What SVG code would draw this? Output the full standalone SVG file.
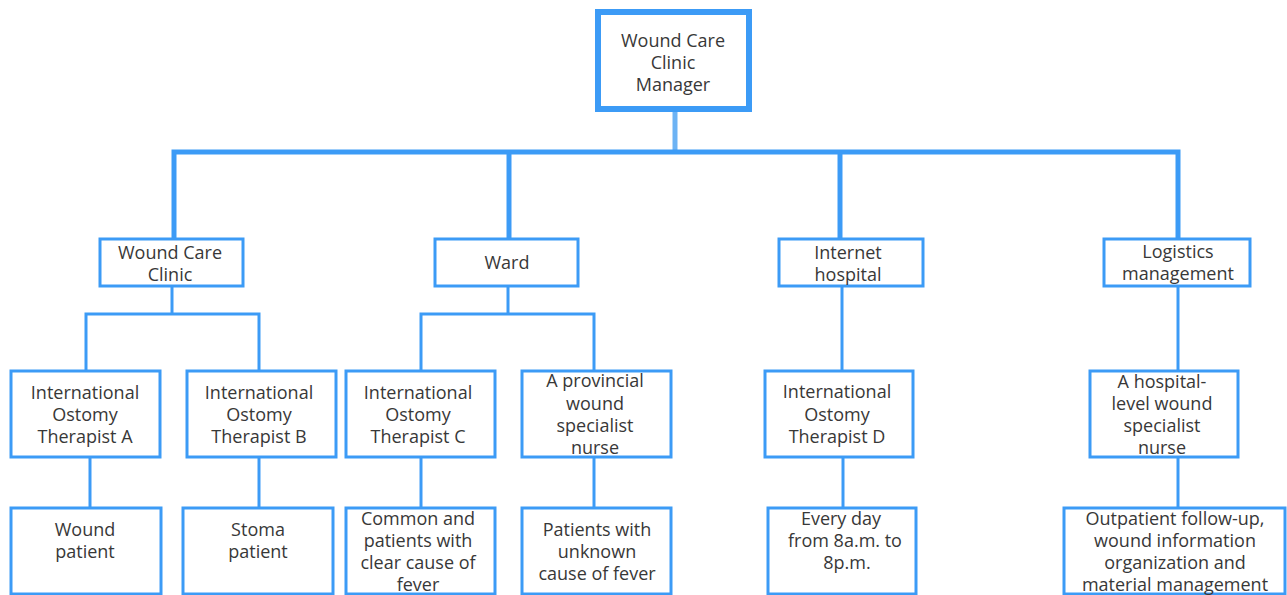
<svg xmlns="http://www.w3.org/2000/svg" width="1287" height="595" viewBox="0 0 1287 595">
<style>
.box{fill:#fff;stroke:#3C9BF6;stroke-width:3}
.top{fill:#fff;stroke:#3C9BF6;stroke-width:6}
.t{font-family:"Open Sans","Noto Sans",sans-serif;font-size:18px;fill:#383838;text-anchor:middle}
.c{fill:none;stroke:#3C9BF6;stroke-width:3}
.ct{fill:none;stroke:#3C9BF6;stroke-width:5}
.cs{fill:none;stroke:#6DB3F4;stroke-width:5}
</style>
<rect width="1287" height="595" fill="#fff"/>
<g id="connectors">
<path class="cs" d="M675,112 V151"/>
<path class="ct" d="M174,238 V152 H1178 V238"/>
<path class="ct" d="M509,152 V238"/>
<path class="ct" d="M840,152 V238"/>
<path class="c" d="M172,287 V314"/>
<path class="c" d="M86,370 V314 H259 V370"/>
<path class="c" d="M508,287 V314"/>
<path class="c" d="M421,370 V314 H594 V370"/>
<path class="c" d="M842,287 V370"/>
<path class="c" d="M1178,287 V370"/>
<path class="c" d="M90,458 V507"/>
<path class="c" d="M259,458 V507"/>
<path class="c" d="M421,458 V507"/>
<path class="c" d="M594,458 V507"/>
<path class="c" d="M843,458 V507"/>
<path class="c" d="M1178,458 V507"/>
</g>
<g id="manager">
<rect class="top" x="598" y="12" width="151" height="97"/>
<text class="t"><tspan x="673" y="47">Wound Care</tspan><tspan x="673" y="69">Clinic</tspan><tspan x="673" y="91">Manager</tspan></text>
</g>
<g id="clinic">
<rect class="box" x="100" y="239" width="143" height="47"/>
<text class="t"><tspan x="170" y="259">Wound Care</tspan><tspan x="170" y="281">Clinic</tspan></text>
</g>
<g id="ward">
<rect class="box" x="435" y="239" width="143" height="47"/>
<text class="t"><tspan x="507" y="269">Ward</tspan></text>
</g>
<g id="internet">
<rect class="box" x="779" y="239" width="144" height="47"/>
<text class="t"><tspan x="848" y="259">Internet</tspan><tspan x="848" y="281">hospital</tspan></text>
</g>
<g id="logistics">
<rect class="box" x="1104" y="239" width="146" height="47"/>
<text class="t"><tspan x="1178" y="258">Logistics</tspan><tspan x="1178" y="280">management</tspan></text>
</g>
<g id="therapistA">
<rect class="box" x="11" y="371" width="149" height="86"/>
<text class="t"><tspan x="85" y="399">International</tspan><tspan x="85" y="421">Ostomy</tspan><tspan x="85" y="443">Therapist A</tspan></text>
</g>
<g id="therapistB">
<rect class="box" x="187" y="371" width="149" height="86"/>
<text class="t"><tspan x="259" y="399">International</tspan><tspan x="259" y="421">Ostomy</tspan><tspan x="259" y="443">Therapist B</tspan></text>
</g>
<g id="therapistC">
<rect class="box" x="346" y="371" width="149" height="86"/>
<text class="t"><tspan x="418" y="399">International</tspan><tspan x="418" y="421">Ostomy</tspan><tspan x="418" y="443">Therapist C</tspan></text>
</g>
<g id="provincialNurse">
<rect class="box" x="522" y="371" width="149" height="86"/>
<text class="t"><tspan x="595" y="387">A provincial</tspan><tspan x="595" y="410">wound</tspan><tspan x="595" y="432">specialist</tspan><tspan x="595" y="454">nurse</tspan></text>
</g>
<g id="therapistD">
<rect class="box" x="765" y="371" width="148" height="86"/>
<text class="t"><tspan x="837" y="398">International</tspan><tspan x="837" y="421">Ostomy</tspan><tspan x="837" y="443">Therapist D</tspan></text>
</g>
<g id="hospitalNurse">
<rect class="box" x="1090" y="371" width="148" height="86"/>
<text class="t"><tspan x="1162" y="388">A hospital-</tspan><tspan x="1162" y="410">level wound</tspan><tspan x="1162" y="432">specialist</tspan><tspan x="1162" y="454">nurse</tspan></text>
</g>
<g id="woundPatient">
<rect class="box" x="11" y="508" width="150" height="86"/>
<text class="t"><tspan x="85" y="536">Wound</tspan><tspan x="85" y="558">patient</tspan></text>
</g>
<g id="stomaPatient">
<rect class="box" x="183" y="508" width="150" height="86"/>
<text class="t"><tspan x="258" y="536">Stoma</tspan><tspan x="258" y="558">patient</tspan></text>
</g>
<g id="commonPatients">
<rect class="box" x="346" y="508" width="149" height="86"/>
<text class="t"><tspan x="418" y="525">Common and</tspan><tspan x="418" y="547">patients with</tspan><tspan x="418" y="569">clear cause of</tspan><tspan x="418" y="591">fever</tspan></text>
</g>
<g id="unknownFever">
<rect class="box" x="522" y="508" width="149" height="86"/>
<text class="t"><tspan x="597" y="536">Patients with</tspan><tspan x="597" y="558">unknown</tspan><tspan x="597" y="580">cause of fever</tspan></text>
</g>
<g id="everyDay">
<rect class="box" x="768" y="508" width="148" height="86"/>
<text class="t"><tspan x="841" y="525">Every day</tspan><tspan x="845" y="547">from 8a.m. to</tspan><tspan x="847" y="569">8p.m.</tspan></text>
</g>
<g id="outpatient">
<rect class="box" x="1064" y="508" width="221" height="86"/>
<text class="t"><tspan x="1175" y="525">Outpatient follow-up,</tspan><tspan x="1175" y="547">wound information</tspan><tspan x="1175" y="569">organization and</tspan><tspan x="1175" y="591">material management</tspan></text>
</g>
</svg>
